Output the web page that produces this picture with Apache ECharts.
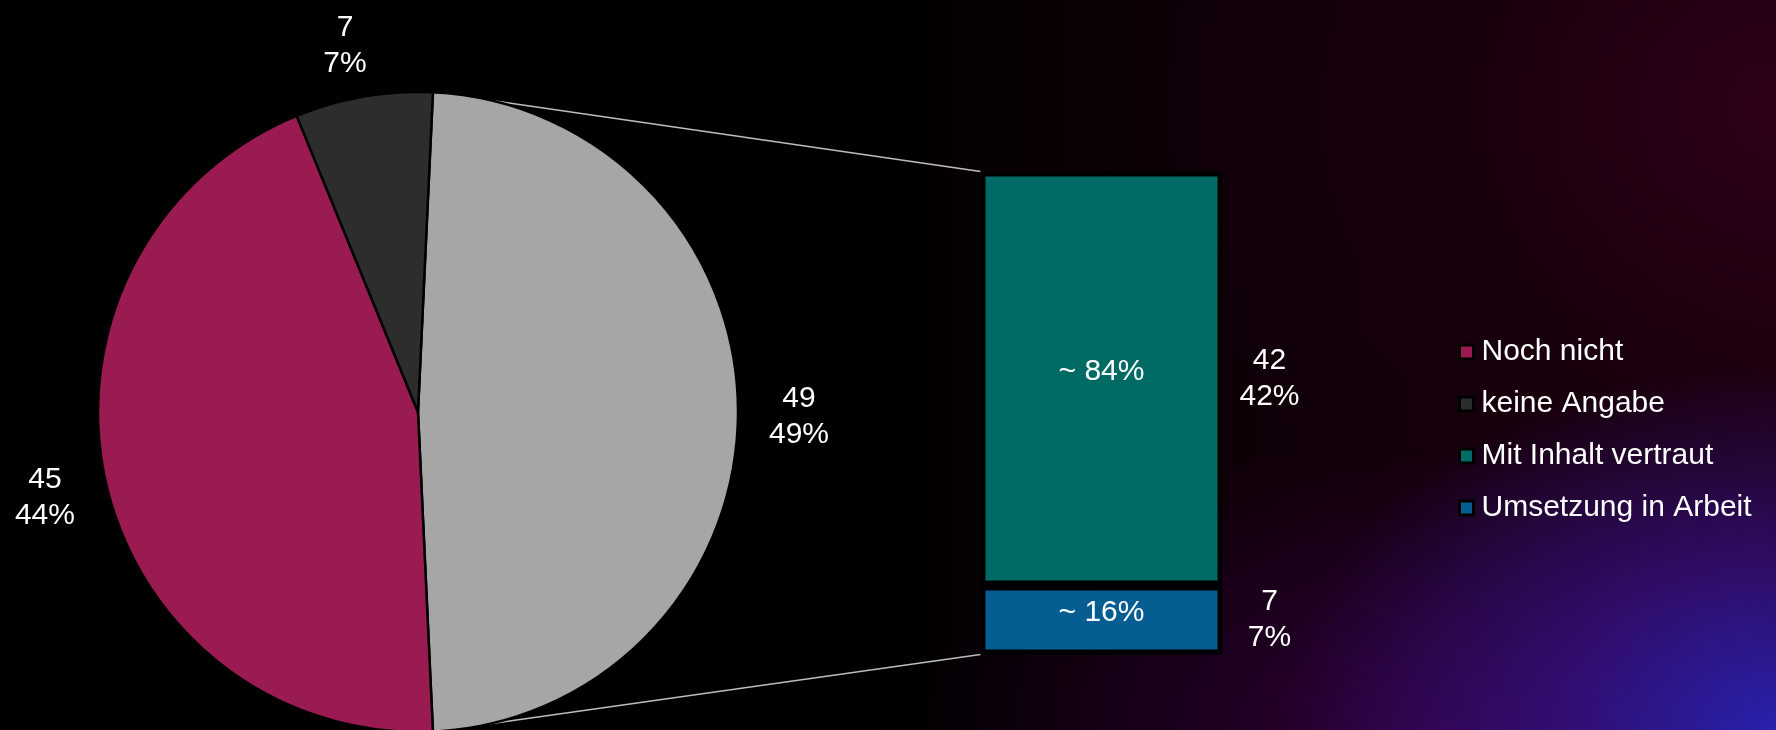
<!DOCTYPE html>
<html>
<head>
<meta charset="utf-8">
<script src="https://cdn.jsdelivr.net/npm/echarts@6/dist/echarts.min.js"></script>
<style>
  html, body {
    margin: 0;
    padding: 0;
    width: 1776px;
    height: 730px;
    overflow: hidden;
  }
  body {
    background:
      radial-gradient(ellipse 28% 50% at 100% 100%, rgba(40,35,180,0.95) 0%, rgba(55,20,145,0.65) 45%, rgba(0,0,0,0) 100%),
      radial-gradient(ellipse 30% 40% at 82% 100%, rgba(65,0,90,0.55) 0%, rgba(0,0,0,0) 100%),
      radial-gradient(ellipse 35% 70% at 100% 15%, rgba(60,0,32,0.6) 0%, rgba(35,0,20,0.35) 50%, rgba(0,0,0,0) 100%),
      linear-gradient(90deg, #000 0%, #000 48%, #0d0007 65%, #1a000d 100%);
  }
  #chart {
    width: 1776px;
    height: 730px;
  }
</style>
</head>
<body>
<div id="chart"></div>
<script>
  // pie (left)
  const pieNames = ['Kenntnis', 'Noch nicht', 'keine Angabe']
  const pieValues = [49, 45, 7]
  const piePercents = ['49%', '44%', '7%']
  const pieColors = ['#a6a6a6', '#9a1b52', '#2d2d2d']

  // bar (right), bottom -> top
  const barNames = ['Umsetzung in Arbeit', 'Mit Inhalt vertraut']
  const barValues = [7, 42]
  const barPercents = ['7%', '42%']
  const barShares = ['~ 16%', '~ 84%']
  const barColors = ['#065d91', '#006b65']

  const legendNames = ['Noch nicht', 'keine Angabe', 'Mit Inhalt vertraut', 'Umsetzung in Arbeit']

  const font = '"Liberation Sans", Arial, sans-serif'
  const pieCenter = [418, 412]
  const pieRadius = 320
  const gridLeft = 980.5
  const gridTop = 171.5
  const gridWidth = 242
  const gridHeight = 483

  const twoLine = {
    v: {
      width: 62,
      align: 'center',
      color: '#fff',
      fontSize: 30,
      lineHeight: 36,
      fontFamily: font
    }
  }

  let myChart = echarts.init(document.getElementById('chart'))

  let barSeries = []
  // coloured stack with the inside shares
  barNames.forEach(function (name, i) {
    barSeries.push({
      name: name,
      type: 'bar',
      stack: 'a',
      barWidth: '100%',
      barGap: '-100%',
      data: [barValues[i]],
      itemStyle: {
        color: barColors[i],
        borderColor: '#000',
        borderWidth: 5
      },
      label: {
        show: true,
        position: 'inside',
        offset: [0, -7],
        formatter: barShares[i],
        color: '#fff',
        fontSize: 30,
        fontFamily: font
      }
    })
  })
  // invisible stack carrying the value labels on the right
  barNames.forEach(function (name, i) {
    barSeries.push({
      name: name + ' Wert',
      type: 'bar',
      stack: 'b',
      barWidth: '100%',
      barGap: '-100%',
      silent: true,
      data: [barValues[i]],
      itemStyle: {
        color: 'rgba(0,0,0,0)'
      },
      label: {
        show: true,
        position: 'right',
        distance: 16,
        formatter: '{v|' + barValues[i] + '}\n{v|' + barPercents[i] + '}',
        rich: twoLine
      }
    })
  })

  let option = {
    backgroundColor: 'transparent',
    animation: false,
    legend: {
      orient: 'vertical',
      left: 1453,
      top: 332,
      itemWidth: 14,
      itemHeight: 14,
      itemGap: 22,
      icon: 'rect',
      data: legendNames,
      itemStyle: {
        borderColor: '#000',
        borderWidth: 3
      },
      textStyle: {
        color: '#fff',
        fontSize: 30,
        lineHeight: 30,
        fontFamily: font,
        padding: [0, 0, 0, 3]
      }
    },
    grid: {
      left: gridLeft,
      top: gridTop,
      width: gridWidth,
      height: gridHeight
    },
    xAxis: {
      type: 'category',
      show: false,
      data: ['Kenntnis']
    },
    yAxis: {
      type: 'value',
      show: false,
      min: 0,
      max: barValues[0] + barValues[1]
    },
    series: [
      {
        name: 'Stand',
        type: 'pie',
        center: pieCenter,
        radius: pieRadius,
        startAngle: 360 * pieValues[0] / (pieValues[0] + pieValues[1] + pieValues[2]) / 2,
        clockwise: true,
        data: pieNames.map(function (n, i) {
          return { name: n, value: pieValues[i], itemStyle: { color: pieColors[i] } }
        }),
        itemStyle: {
          borderColor: '#000',
          borderWidth: 2.5
        },
        label: {
          show: true,
          position: 'outside',
          formatter: function (p) {
            return '{v|' + pieValues[p.dataIndex] + '}\n{v|' + piePercents[p.dataIndex] + '}'
          },
          rich: twoLine
        },
        labelLine: {
          show: false,
          length: 15,
          length2: 10
        },
        labelLayout: function (p) {
          // small nudges to match the original placement
          if (p.dataIndex === 1) return { dy: 6.5 }
          if (p.dataIndex === 2) return { dx: 15, dy: -18 }
          return { dy: 2.5 }
        }
      }
    ].concat(barSeries)
  }

  myChart.setOption(option)

  // connector lines from the pie to the bar
  let yTop = myChart.convertToPixel({ yAxisIndex: 0 }, barValues[0] + barValues[1])
  let yBot = myChart.convertToPixel({ yAxisIndex: 0 }, 0)
  let a = 13 * Math.PI / 180
  let px = pieCenter[0] + pieRadius * Math.sin(a)
  let pyTop = pieCenter[1] - pieRadius * Math.cos(a)
  let pyBot = pieCenter[1] + pieRadius * Math.cos(a)
  myChart.setOption({
    graphic: [
      {
        type: 'line',
        z: 1,
        shape: { x1: px, y1: pyTop, x2: gridLeft, y2: yTop },
        style: { stroke: '#bdbdbd', lineWidth: 1.5 }
      },
      {
        type: 'line',
        z: 1,
        shape: { x1: px, y1: pyBot, x2: gridLeft, y2: yBot },
        style: { stroke: '#bdbdbd', lineWidth: 1.5 }
      }
    ]
  })
</script>
</body>
</html>
